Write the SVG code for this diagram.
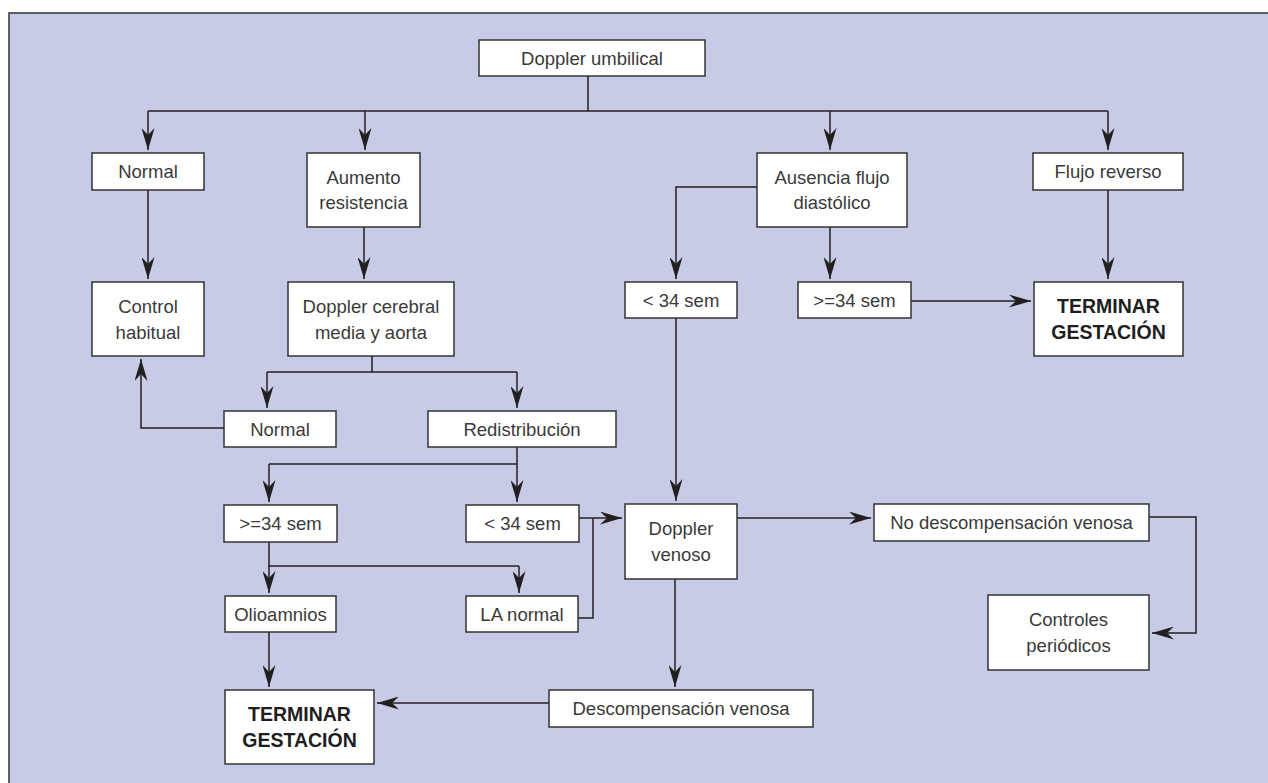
<svg xmlns="http://www.w3.org/2000/svg" width="1268" height="783" viewBox="0 0 1268 783">
<defs>
<style>
.box{fill:#fff;stroke:#333;stroke-width:1.5}
.t{font-family:"Liberation Sans",Arial,sans-serif;font-size:18.5px;fill:#3a3a3a;text-anchor:middle}
.b{font-family:"Liberation Sans",Arial,sans-serif;font-size:19.5px;font-weight:bold;fill:#1e1e1e;text-anchor:middle}
.c{fill:none;stroke:#231f20;stroke-width:1.5}
</style>
<marker id="ah" markerUnits="userSpaceOnUse" markerWidth="22" markerHeight="13" refX="22" refY="6.5" orient="auto" viewBox="0 0 22 13">
<path d="M0,0 L22,6.5 L0,13 L7,6.5 Z" fill="#231f20"/>
</marker>
</defs>
<rect x="0" y="0" width="1268" height="783" fill="#fff"/>
<rect x="9" y="13" width="1275" height="790" fill="#c8cbe5" stroke="#333" stroke-width="1.5"/>

<g id="connectors">
<path class="c" d="M588,76 V111 M148,111 H1108"/>
<path class="c" d="M148,111 V150" marker-end="url(#ah)"/>
<path class="c" d="M365,111 V150" marker-end="url(#ah)"/>
<path class="c" d="M830,111 V150" marker-end="url(#ah)"/>
<path class="c" d="M1108,111 V150" marker-end="url(#ah)"/>
<path class="c" d="M148,190 V279" marker-end="url(#ah)"/>
<path class="c" d="M364,227 V279" marker-end="url(#ah)"/>
<path class="c" d="M757,187 H676 V279" marker-end="url(#ah)"/>
<path class="c" d="M830,227 V279" marker-end="url(#ah)"/>
<path class="c" d="M1108,190 V279" marker-end="url(#ah)"/>
<path class="c" d="M911,301 H1031" marker-end="url(#ah)"/>
<path class="c" d="M372,356 V372 M267,372 H517"/>
<path class="c" d="M267,372 V408" marker-end="url(#ah)"/>
<path class="c" d="M517,372 V408" marker-end="url(#ah)"/>
<path class="c" d="M224,428 H141 V359" marker-end="url(#ah)"/>
<path class="c" d="M269,464 H517"/>
<path class="c" d="M269,464 V502" marker-end="url(#ah)"/>
<path class="c" d="M517,447 V502" marker-end="url(#ah)"/>
<path class="c" d="M579,518 H622" marker-end="url(#ah)"/>
<path class="c" d="M578,618 H593 V518"/>
<path class="c" d="M676,318 V501" marker-end="url(#ah)"/>
<path class="c" d="M269,542 V566 H519"/>
<path class="c" d="M269,566 V593" marker-end="url(#ah)"/>
<path class="c" d="M519,566 V593" marker-end="url(#ah)"/>
<path class="c" d="M269,632 V687" marker-end="url(#ah)"/>
<path class="c" d="M675,579 V687" marker-end="url(#ah)"/>
<path class="c" d="M549,703 H377" marker-end="url(#ah)"/>
<path class="c" d="M737,518 H871" marker-end="url(#ah)"/>
<path class="c" d="M1149,517 H1196 V633 H1152" marker-end="url(#ah)"/>
</g>

<g id="doppler-umbilical"><rect class="box" x="479" y="40" width="226" height="36"/><text class="t" x="592" y="64.5">Doppler umbilical</text></g>
<g id="normal"><rect class="box" x="92" y="153" width="112" height="37"/><text class="t" x="148" y="178">Normal</text></g>
<g id="aumento"><rect class="box" x="307" y="153" width="113" height="74"/><text class="t" x="363.5" y="184">Aumento</text><text class="t" x="363.5" y="209">resistencia</text></g>
<g id="ausencia"><rect class="box" x="757" y="153" width="150" height="74"/><text class="t" x="832" y="184">Ausencia flujo</text><text class="t" x="832" y="209">diastólico</text></g>
<g id="flujo-reverso"><rect class="box" x="1033" y="153" width="150" height="37"/><text class="t" x="1108" y="178">Flujo reverso</text></g>
<g id="menos34-top"><rect class="box" x="625" y="282" width="112" height="36"/><text class="t" x="681" y="306.5">&lt; 34 sem</text></g>
<g id="mas34-top"><rect class="box" x="798" y="282" width="113" height="36"/><text class="t" x="854.5" y="306.5">&gt;=34 sem</text></g>
<g id="terminar-right"><rect class="box" x="1034" y="282" width="149" height="74"/><text class="b" x="1108.5" y="313">TERMINAR</text><text class="b" x="1108.5" y="339">GESTACIÓN</text></g>
<g id="control-habitual"><rect class="box" x="92" y="282" width="112" height="74"/><text class="t" x="148" y="312.5">Control</text><text class="t" x="148" y="338.5">habitual</text></g>
<g id="doppler-cerebral"><rect class="box" x="288" y="282" width="166" height="74"/><text class="t" x="371" y="312.5">Doppler cerebral</text><text class="t" x="371" y="338.5">media y aorta</text></g>
<g id="normal2"><rect class="box" x="224" y="411" width="112" height="36"/><text class="t" x="280" y="435.5">Normal</text></g>
<g id="redistribucion"><rect class="box" x="428" y="411" width="188" height="36"/><text class="t" x="522" y="435.5">Redistribución</text></g>
<g id="mas34-left"><rect class="box" x="224" y="505" width="113" height="37"/><text class="t" x="280.5" y="530">&gt;=34 sem</text></g>
<g id="menos34-left"><rect class="box" x="466" y="505" width="113" height="37"/><text class="t" x="522.5" y="530">&lt; 34 sem</text></g>
<g id="doppler-venoso"><rect class="box" x="625" y="504" width="112" height="75"/><text class="t" x="681" y="535">Doppler</text><text class="t" x="681" y="561">venoso</text></g>
<g id="no-descompensacion"><rect class="box" x="874" y="504" width="275" height="37"/><text class="t" x="1011.5" y="529">No descompensación venosa</text></g>
<g id="controles"><rect class="box" x="988" y="595" width="161" height="75"/><text class="t" x="1068.5" y="626">Controles</text><text class="t" x="1068.5" y="652">periódicos</text></g>
<g id="olioamnios"><rect class="box" x="225" y="596" width="111" height="36"/><text class="t" x="280.5" y="620.5">Olioamnios</text></g>
<g id="la-normal"><rect class="box" x="466" y="596" width="112" height="36"/><text class="t" x="522" y="620.5">LA normal</text></g>
<g id="terminar-left"><rect class="box" x="225" y="690" width="149" height="74"/><text class="b" x="299.5" y="721">TERMINAR</text><text class="b" x="299.5" y="747">GESTACIÓN</text></g>
<g id="descompensacion"><rect class="box" x="549" y="690" width="264" height="37"/><text class="t" x="681" y="715">Descompensación venosa</text></g>
</svg>
